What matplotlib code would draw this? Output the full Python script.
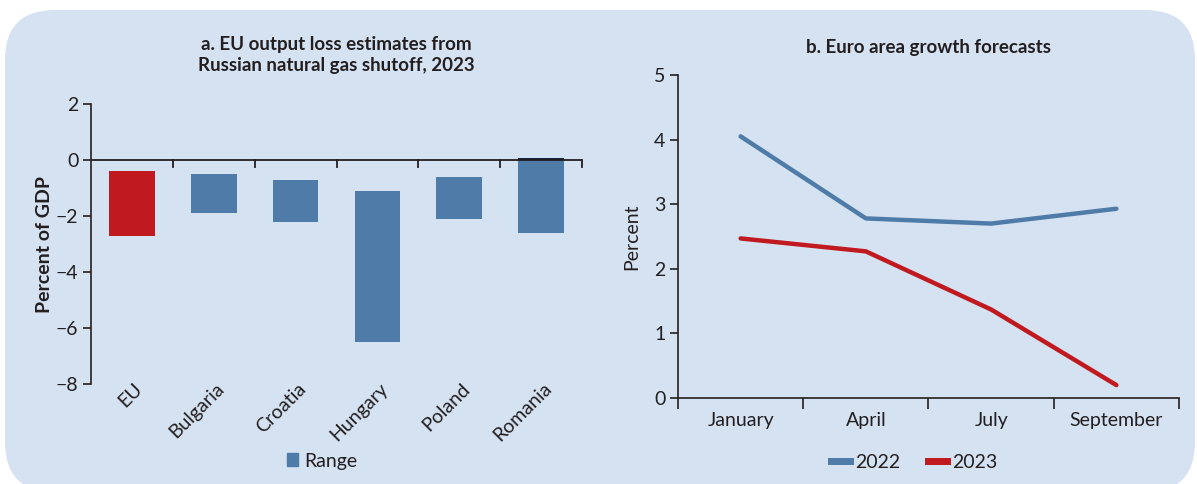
""" EU gas shutoff output loss and euro area growth forecasts """

import numpy as np
import matplotlib.pyplot as plt
from matplotlib.patches import FancyBboxPatch, Patch
from matplotlib.lines import Line2D

# data panel a
countries = ['EU', 'Bulgaria', 'Croatia', 'Hungary', 'Poland', 'Romania']
range_top = [-0.4, -0.5, -0.7, -1.1, -0.6, 0.08]
range_bottom = [-2.7, -1.9, -2.2, -6.5, -2.1, -2.6]

# data panel b
months = ['January', 'April', 'July', 'September']
forecast_2022 = [4.05, 2.78, 2.70, 2.93]
forecast_2023 = [2.47, 2.27, 1.37, 0.20]

# styles
blue = '#4E7BA8'
red = '#C0191F'
navy = '#12223F'
bg = '#D5E2F1'
ink = '#231F20'
fs = 14

plt.rcParams['font.family'] = ['Lato', 'DejaVu Sans']
plt.rcParams['text.color'] = ink
plt.rcParams['axes.labelcolor'] = ink
plt.rcParams['xtick.color'] = ink
plt.rcParams['ytick.color'] = ink

fig = plt.figure(figsize=(11.97, 4.84), dpi=100)
fig.patch.set_facecolor('white')
W, H = 1197, 484

# rounded background panel (inches)
panel = FancyBboxPatch((0.05, -0.08), 11.90, 4.82,
                       boxstyle='round,pad=0,rounding_size=0.5',
                       transform=fig.dpi_scale_trans, facecolor=bg, edgecolor='none',
                       zorder=-10)
fig.patches.append(panel)

# panel a
ax = fig.add_axes([91 / W, 1 - 384 / H, (582 - 91) / W, (384 - 104) / H])
ax.set_facecolor('none')
x = np.arange(len(countries))
heights = np.array(range_top) - np.array(range_bottom)
colors = [red] + [blue] * (len(countries) - 1)
ax.bar(x, heights, bottom=range_bottom, width=0.56, color=colors, zorder=2)
# dark cap on Romania above zero
ax.bar(x[-1], range_top[-1], bottom=0, width=0.56, color=navy, zorder=3)
ax.set_xlim(-0.5, len(countries) - 0.5)
ax.set_ylim(-8, 2)
ax.set_yticks(np.arange(-8, 3, 2))
ax.set_yticklabels([f'{v}'.replace('-', '\u2212') for v in range(-8, 3, 2)])
ax.axhline(0, color=ink, lw=1.3, zorder=4)
for b in np.arange(0.5, len(countries)):
    ax.plot([b, b], [0, -0.25], color=ink, lw=1.3, zorder=4, clip_on=False)
ax.set_xticks(x + 0.02)
ax.set_xticklabels(countries, rotation=45, ha='right', va='top', rotation_mode='anchor', fontsize=fs)
ax.tick_params(axis='x', length=0, pad=-3)
ax.tick_params(axis='y', length=6, width=1.2, labelsize=fs, pad=3)
for s in ['top', 'right', 'bottom']:
    ax.spines[s].set_visible(False)
ax.spines['left'].set_linewidth(1.2)
ax.spines['left'].set_color(ink)
ax.set_ylabel('Percent of GDP', fontsize=fs, fontweight='bold', labelpad=2)
ax.set_title('a. EU output loss estimates from\nRussian natural gas shutoff, 2023',
             fontsize=13.5, fontweight='bold', pad=24, linespacing=1.25)
fig.legend(handles=[Patch(color=blue, label='Range')], loc='center',
           bbox_to_anchor=(322 / W, 1 - 461 / H), frameon=False, fontsize=fs,
           handlelength=0.6, handleheight=0.6, handletextpad=0.3)

# panel b
bx = fig.add_axes([678 / W, 1 - 398 / H, (1179 - 678) / W, (398 - 75) / H])
bx.set_facecolor('none')
m = np.arange(len(months))
bx.plot(m, forecast_2022, color=blue, lw=3.2, solid_capstyle='round', label='2022')
bx.plot(m, forecast_2023, color=red, lw=3.2, solid_capstyle='round', label='2023')
bx.set_xlim(-0.5, len(months) - 0.5)
bx.set_ylim(0, 5)
bx.set_yticks(range(0, 6))
bx.set_xticks(m)
bx.set_xticklabels(months, fontsize=fs)
bx.set_xticks(np.arange(-0.5, len(months)), minor=True)
bx.tick_params(axis='x', which='major', length=0, pad=10)
bx.tick_params(axis='x', which='minor', length=8, width=1.2, direction='out')
bx.tick_params(axis='y', length=6, width=1.2, labelsize=fs, pad=3)
for s in ['top', 'right']:
    bx.spines[s].set_visible(False)
for s in ['left', 'bottom']:
    bx.spines[s].set_linewidth(1.2)
    bx.spines[s].set_color(ink)
bx.set_ylabel('Percent', fontsize=fs, labelpad=10)
bx.set_title('b. Euro area growth forecasts', fontsize=13.5, fontweight='bold', pad=16)
fig.legend(handles=[Line2D([], [], color=blue, lw=5, label='2022'),
                    Line2D([], [], color=red, lw=5, label='2023')],
           loc='center', bbox_to_anchor=(914 / W, 1 - 462 / H), ncol=2, frameon=False,
           fontsize=fs, handlelength=1.0, handletextpad=0.25, columnspacing=1.4)

fig.savefig('out.png', dpi=100, facecolor='white')
